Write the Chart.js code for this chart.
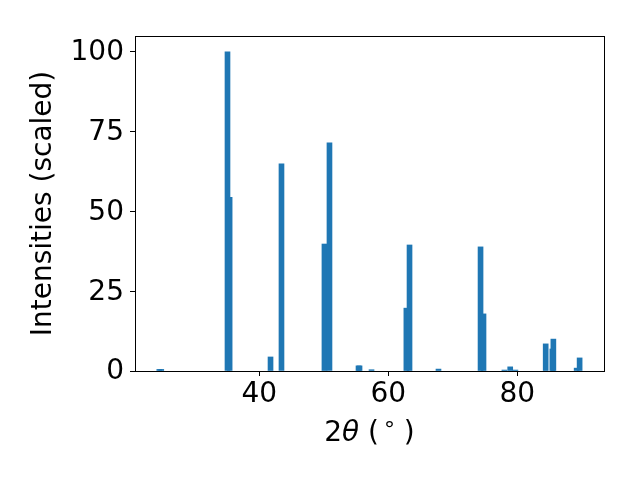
<!DOCTYPE html>
<html>
<head>
<meta charset="utf-8">
<script src="https://cdn.jsdelivr.net/npm/chart.js@4/dist/chart.umd.min.js"></script>
<style>
  body { margin: 0; background: #fff; }
  canvas { display: block; }
</style>
</head>
<body>
<canvas id="myChart" width="640" height="480"></canvas>
<script>
// peak positions (2theta, degrees) and scaled intensities
var angles = [24.5, 24.8, 35.07, 35.4, 41.74, 43.44, 50.1, 50.88, 55.38, 55.54, 57.4,
              62.8, 63.29, 67.78, 74.3, 74.76, 78.0, 78.9, 79.7, 84.4, 85.43, 85.59, 89.2, 89.66];
var intensities = [0.5, 0.5, 100, 54.4, 4.4, 64.9, 39.8, 71.5, 1.6, 1.6, 0.4,
                   19.7, 39.5, 0.6, 38.9, 17.9, 0.3, 1.3, 0.3, 8.5, 6.9, 10.0, 0.9, 4.1];
var xTicks = [40, 60, 80];
var yTicks = [0, 25, 50, 75, 100];

var points = angles.map(function (a, i) { return { x: a, y: intensities[i] }; });

// top and right spines + x label with italic theta and superscript degree
var frame = {
  id: 'frame',
  afterDraw: function (chart) {
    var c = chart.ctx, a = chart.chartArea;
    c.save();
    c.strokeStyle = '#000';
    c.lineWidth = 1;
    c.strokeRect(Math.round(a.left) + 0.5, Math.round(a.top) + 0.5,
                 Math.round(a.right - a.left), Math.round(a.bottom - a.top));

    var parts = [
      { t: '2', f: '28px "DejaVu Sans"', dy: 0, gap: 0 },
      { t: 'θ', f: 'italic 28px "DejaVu Sans"', dy: 0, gap: 0 },
      { t: ' (', f: '28px "DejaVu Sans"', dy: 0, gap: 5 },
      { t: '°', f: '22px "DejaVu Sans"', dy: -4, gap: 0 },
      { t: ' )', f: '28px "DejaVu Sans"', dy: 0, gap: 0 }
    ];
    var total = 0;
    parts.forEach(function (p) { c.font = p.f; p.w = c.measureText(p.t).width + p.gap; total += p.w; });
    var x = (a.left + a.right) / 2 - total / 2, y = 441;
    c.fillStyle = '#000';
    c.textBaseline = 'alphabetic';
    parts.forEach(function (p) { c.font = p.f; c.fillText(p.t, x, y + p.dy); x += p.w; });
    c.restore();
  }
};

var font = { family: 'DejaVu Sans', size: 28 };

var ctx = document.getElementById('myChart').getContext('2d');
var myChart = new Chart(ctx, {
  type: 'bar',
  data: {
    datasets: [{
      data: points,
      backgroundColor: '#1f77b4',
      borderWidth: 0,
      barThickness: 5
    }]
  },
  options: {
    responsive: false,
    animation: false,
    devicePixelRatio: 1,
    layout: { padding: { left: 0, right: 36, top: 36, bottom: 0 } },
    plugins: { legend: { display: false }, tooltip: { enabled: false } },
    scales: {
      x: {
        type: 'linear',
        offset: false,
        min: 20.73,
        max: 93.44,
        afterBuildTicks: function (s) { s.ticks = xTicks.map(function (v) { return { value: v }; }); },
        afterFit: function (s) { s.height = 109; },
        grid: { offset: false, drawOnChartArea: false, drawTicks: true, tickLength: 5, color: '#000' },
        border: { display: true, color: '#000' },
        ticks: { color: '#000', font: font, padding: 2, maxRotation: 0 },
        title: { display: false }
      },
      y: {
        min: 0,
        max: 105,
        afterBuildTicks: function (s) { s.ticks = yTicks.map(function (v) { return { value: v }; }); },
        afterFit: function (s) { s.width = 135; },
        grid: { drawOnChartArea: false, drawTicks: true, tickLength: 5, color: '#000' },
        border: { display: true, color: '#000' },
        ticks: { color: '#000', font: font, padding: 6, labelOffset: 1 },
        title: { display: true, text: 'Intensities (scaled)', color: '#000', font: font, padding: { top: 27, bottom: 0 } }
      }
    }
  },
  plugins: [frame]
});
</script>
</body>
</html>
